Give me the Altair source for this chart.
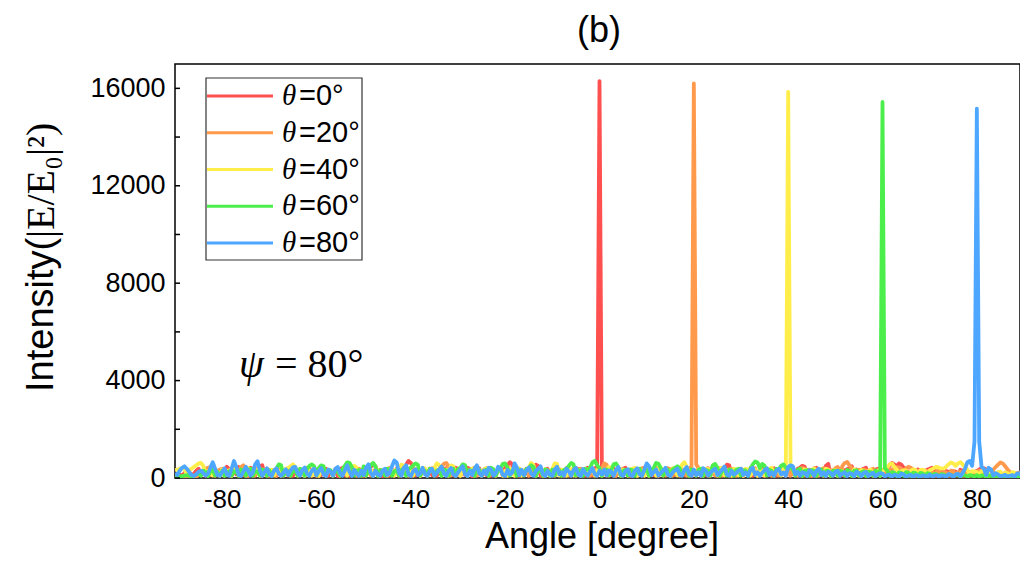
import altair as alt
import pandas as pd

# ---------------- data ----------------
ANGLE_START = -90.0
ANGLE_STEP = 0.5

series_names = ["θ=0°", "θ=20°", "θ=40°", "θ=60°", "θ=80°"]
legend_symbol = ["θ", "θ", "θ", "θ", "θ"]
legend_rest = ["=0°", "=20°", "=40°", "=60°", "=80°"]
series_colors = ["#FF5050", "#FF9A4C", "#FFEE4A", "#4CEE4C", "#4DA6FF"]

x_tick_labels = [-80, -60, -40, -20, 0, 20, 40, 60, 80]
y_tick_labels = [0, 4000, 8000, 12000, 16000]
y_minor_ticks = [0, 2000, 4000, 6000, 8000, 10000, 12000, 14000, 16000]

red = [
    100, 60, 150, 80, 200, 120, 250, 90, 180, 300, 380, 120, 300, 90, 350, 460, 500, 150, 300, 90,
    320, 100, 460, 350, 90, 300, 150, 450, 400, 120, 280, 80, 420, 380, 100, 360, 480, 520, 150, 350,
    90, 260, 320, 80, 300, 120, 280, 340, 100, 350, 90, 260, 330, 120, 320, 80, 350, 420, 110, 300,
    80, 320, 120, 300, 380, 90, 280, 130, 300, 80, 350, 420, 100, 300, 90, 420, 380, 110, 280, 90,
    340, 100, 380, 450, 560, 480, 120, 300, 80, 320, 360, 90, 280, 120, 380, 90, 340, 420, 550, 700,
    620, 420, 100, 300, 90, 300, 270, 80, 380, 120, 290, 90, 300, 120, 350, 400, 90, 300, 110, 420,
    380, 90, 300, 120, 420, 380, 80, 300, 110, 400, 90, 300, 120, 380, 90, 300, 120, 420, 380, 100,
    420, 520, 650, 560, 120, 320, 90, 300, 110, 380, 90, 300, 120, 550, 500, 90, 300, 100, 380, 90,
    300, 90, 380, 120, 300, 90, 400, 360, 100, 300, 90, 380, 120, 320, 90, 420, 380, 100, 400, 450,
    16300, 500, 380, 90, 300, 120, 400, 90, 300, 110, 380, 420, 90, 300, 120, 380, 90, 300, 110, 420,
    380, 90, 300, 120, 400, 90, 320, 110, 340, 380, 90, 300, 120, 400, 90, 320, 110, 350, 380, 90,
    300, 110, 380, 90, 300, 120, 400, 90, 320, 110, 340, 90, 350, 120, 550, 520, 90, 340, 110, 350,
    380, 90, 300, 120, 400, 90, 320, 110, 340, 380, 90, 320, 110, 340, 400, 90, 320, 110, 340, 380,
    350, 90, 300, 120, 380, 420, 500, 460, 100, 340, 90, 350, 420, 110, 340, 90, 500, 580, 120, 320,
    300, 90, 380, 120, 320, 360, 420, 480, 100, 350, 90, 340, 380, 420, 110, 320, 90, 340, 380, 120,
    330, 100, 350, 500, 620, 560, 480, 600, 550, 420, 380, 120, 300, 280, 90, 350, 300, 100, 300, 340,
    380, 420, 350, 90, 260, 300, 120, 280, 250, 90, 280, 260, 100, 340, 300, 90, 280, 240, 100, 250,
    280, 350, 420, 400, 350, 120, 260, 240, 90, 200, 220, 90, 220, 200, 80, 160, 180, 70, 220, 200,
    180,
]

orange = [
    80, 70, 60, 50, 60, 80, 100, 90, 70, 60, 120, 180, 250, 380, 420, 120, 250, 90, 260, 350,
    380, 100, 250, 320, 90, 350, 280, 100, 450, 520, 400, 90, 280, 350, 100, 380, 300, 90, 320, 380,
    100, 300, 280, 90, 360, 300, 100, 300, 350, 90, 450, 380, 100, 280, 330, 90, 420, 360, 100, 280,
    300, 90, 280, 320, 100, 300, 270, 90, 380, 330, 100, 350, 420, 500, 450, 100, 300, 90, 380, 330,
    90, 350, 400, 100, 300, 330, 90, 340, 300, 100, 360, 420, 380, 90, 300, 350, 100, 360, 320, 90,
    380, 100, 300, 350, 90, 360, 320, 100, 350, 400, 90, 320, 350, 450, 580, 620, 480, 100, 340, 90,
    320, 100, 380, 340, 90, 330, 380, 420, 100, 320, 90, 350, 400, 100, 320, 300, 90, 380, 350, 100,
    300, 90, 400, 360, 100, 350, 380, 90, 300, 330, 100, 420, 360, 90, 300, 340, 100, 350, 320, 90,
    340, 100, 420, 360, 90, 300, 350, 100, 360, 320, 90, 340, 380, 100, 320, 360, 90, 380, 340, 100,
    350, 380, 600, 550, 100, 340, 300, 90, 400, 360, 100, 300, 340, 90, 350, 320, 100, 350, 400, 90,
    320, 100, 340, 380, 420, 90, 320, 300, 100, 400, 360, 90, 300, 340, 100, 360, 320, 90, 400, 450,
    16200, 550, 420, 100, 320, 350, 90, 380, 340, 100, 350, 400, 90, 320, 300, 100, 380, 350, 90, 300,
    340, 90, 350, 320, 100, 350, 400, 90, 320, 300, 100, 380, 350, 90, 300, 340, 100, 420, 360, 90,
    350, 100, 340, 300, 90, 380, 420, 100, 340, 300, 90, 400, 360, 100, 350, 400, 90, 340, 320, 100,
    400, 450, 100, 500, 620, 660, 520, 400, 100, 300, 340, 90, 350, 320, 100, 340, 380, 90, 320, 300,
    320, 100, 280, 320, 350, 400, 450, 420, 380, 120, 400, 460, 420, 350, 100, 280, 320, 90, 260, 280,
    300, 260, 90, 280, 300, 100, 240, 220, 90, 300, 280, 100, 230, 260, 90, 250, 230, 100, 240, 220,
    260, 300, 100, 320, 300, 90, 280, 350, 450, 550, 640, 600, 480, 360, 250, 200, 100, 200, 220, 100,
    230,
]

yellow = [
    320, 350, 380, 400, 380, 120, 330, 380, 450, 520, 600, 620, 500, 120, 300, 330, 100, 300, 260, 90,
    350, 100, 280, 320, 90, 420, 350, 100, 280, 330, 90, 420, 360, 100, 280, 330, 90, 340, 300, 100,
    300, 340, 100, 330, 300, 90, 320, 380, 420, 480, 560, 450, 100, 300, 280, 90, 350, 300, 100, 320,
    340, 90, 280, 320, 100, 330, 300, 90, 320, 300, 100, 320, 360, 90, 300, 380, 500, 420, 100, 300,
    280, 100, 360, 330, 90, 280, 320, 100, 330, 300, 90, 380, 330, 100, 350, 420, 550, 500, 100, 320,
    300, 100, 380, 330, 90, 350, 400, 100, 320, 300, 420, 600, 540, 100, 320, 350, 90, 520, 480, 100,
    320, 90, 380, 340, 100, 330, 380, 90, 360, 320, 100, 350, 400, 90, 320, 300, 100, 380, 350, 90,
    300, 100, 380, 330, 90, 350, 400, 100, 320, 300, 420, 620, 540, 100, 320, 340, 90, 350, 320, 100,
    360, 600, 580, 100, 340, 300, 90, 400, 360, 100, 300, 340, 90, 350, 320, 100, 340, 380, 90, 320,
    340, 90, 350, 320, 450, 420, 100, 300, 340, 90, 350, 320, 100, 340, 380, 420, 90, 320, 300, 100,
    380, 100, 320, 300, 90, 380, 420, 100, 320, 300, 90, 400, 360, 100, 300, 550, 650, 450, 100, 300,
    340, 100, 350, 320, 90, 340, 380, 100, 320, 300, 90, 380, 420, 100, 320, 300, 90, 380, 350, 100,
    300, 90, 380, 350, 100, 300, 340, 90, 350, 320, 100, 340, 380, 420, 90, 320, 300, 100, 380, 420,
    15850, 450, 380, 100, 300, 350, 90, 360, 320, 100, 340, 380, 90, 320, 300, 100, 380, 350, 90, 300,
    320, 90, 300, 280, 100, 300, 270, 90, 350, 300, 100, 330, 290, 90, 300, 340, 100, 270, 310, 90,
    300, 350, 420, 560, 600, 450, 350, 100, 280, 320, 300, 100, 300, 350, 330, 90, 320, 340, 300, 100,
    320, 360, 420, 460, 420, 380, 400, 460, 560, 640, 600, 500, 600, 650, 560, 420, 350, 100, 280, 260,
    240, 100, 280, 300, 260, 90, 220, 200, 100, 240, 260, 90, 220, 200, 100, 240, 220, 90, 180, 200,
    190,
]

green = [
    40, 50, 60, 80, 100, 120, 90, 60, 80, 150, 200, 90, 300, 250, 80, 280, 350, 100, 250, 90,
    300, 90, 220, 280, 100, 280, 240, 90, 350, 300, 100, 300, 380, 90, 280, 250, 100, 350, 300, 90,
    320, 90, 300, 380, 560, 520, 100, 300, 280, 90, 300, 280, 100, 380, 350, 90, 380, 500, 560, 480,
    100, 420, 520, 480, 100, 300, 320, 90, 300, 280, 100, 360, 500, 640, 620, 450, 100, 300, 330, 90,
    480, 100, 340, 520, 620, 480, 90, 320, 300, 100, 380, 330, 90, 280, 320, 100, 330, 300, 90, 380,
    420, 520, 600, 540, 100, 330, 300, 90, 380, 350, 100, 300, 340, 90, 350, 320, 100, 340, 380, 90,
    360, 420, 560, 520, 100, 330, 300, 90, 380, 350, 100, 300, 340, 90, 420, 360, 100, 300, 400, 580,
    600, 420, 100, 300, 350, 90, 330, 300, 100, 380, 400, 520, 460, 90, 300, 340, 100, 350, 320, 90,
    340, 100, 350, 320, 90, 340, 380, 500, 620, 560, 100, 320, 300, 90, 380, 350, 420, 640, 700, 520,
    400, 90, 320, 350, 100, 330, 560, 600, 420, 90, 300, 340, 100, 350, 320, 90, 340, 380, 100, 320,
    340, 90, 350, 420, 620, 580, 400, 100, 300, 340, 90, 350, 420, 480, 400, 100, 300, 340, 90, 350,
    320, 100, 340, 380, 90, 320, 300, 100, 520, 580, 420, 90, 300, 340, 100, 350, 320, 90, 340, 380,
    100, 320, 300, 90, 380, 560, 680, 640, 400, 580, 500, 100, 340, 300, 90, 380, 350, 500, 560, 420,
    380, 420, 360, 100, 330, 380, 90, 290, 320, 100, 330, 300, 90, 320, 350, 100, 280, 300, 90, 290,
    300, 90, 290, 260, 100, 330, 280, 90, 290, 320, 100, 240, 280, 90, 260, 240, 100, 300, 260, 90,
    15440, 400, 300, 90, 240, 220, 80, 230, 200, 90, 240, 210, 80, 220, 200, 70, 210, 190, 80, 200,
    180, 70, 170, 150, 60, 160, 140, 70, 150, 130, 60, 140, 120, 50, 130, 110, 60, 120, 100, 50,
    120, 50, 110, 100, 40, 110, 90, 50, 100, 80, 40, 90, 80, 40, 90, 70, 40, 80, 70, 40,
    80,
]

blue = [
    200, 120, 300, 420, 480, 380, 250, 120, 80, 150, 260, 300, 200, 100, 180, 420, 650, 380, 120, 90,
    250, 400, 150, 90, 380, 700, 450, 120, 80, 260, 460, 300, 100, 220, 560, 690, 300, 90, 250, 400,
    150, 80, 300, 400, 180, 90, 220, 360, 120, 300, 440, 460, 200, 100, 330, 430, 180, 90, 300, 380,
    120, 280, 410, 150, 80, 350, 260, 100, 380, 450, 200, 90, 300, 520, 250, 80, 340, 180, 90, 300,
    120, 430, 560, 200, 80, 300, 150, 90, 310, 380, 120, 220, 480, 720, 640, 200, 90, 420, 520, 150,
    80, 280, 360, 120, 200, 420, 150, 90, 290, 380, 100, 210, 350, 470, 180, 90, 300, 410, 150, 80,
    220, 360, 480, 150, 80, 300, 120, 380, 520, 200, 90, 310, 150, 420, 350, 100, 200, 460, 380, 120,
    80, 330, 150, 220, 600, 420, 110, 340, 120, 300, 430, 180, 90, 280, 380, 480, 150, 80, 300, 140,
    90, 350, 460, 150, 240, 100, 380, 270, 90, 330, 420, 150, 80, 370, 200, 100, 260, 410, 150, 90,
    300, 150, 350, 100, 310, 240, 90, 330, 450, 150, 90, 280, 360, 120, 80, 300, 400, 150, 90, 330,
    600, 480, 120, 240, 350, 100, 210, 300, 420, 130, 80, 220, 310, 390, 120, 90, 330, 450, 160, 90,
    350, 120, 240, 90, 400, 310, 100, 220, 300, 380, 120, 230, 350, 470, 150, 90, 290, 150, 200, 310,
    380, 120, 230, 90, 340, 420, 130, 240, 90, 220, 330, 400, 120, 240, 90, 300, 380, 140, 230, 90,
    450, 520, 480, 150, 260, 90, 240, 200, 80, 320, 250, 90, 290, 380, 120, 240, 80, 260, 220, 90,
    250, 300, 90, 180, 240, 80, 200, 170, 60, 260, 200, 70, 210, 250, 80, 160, 220, 60, 150, 200,
    180, 60, 120, 140, 50, 130, 110, 40, 180, 140, 50, 100, 130, 40, 120, 100, 50, 110, 90, 40,
    140, 50, 90, 120, 40, 110, 90, 50, 160, 120, 40, 140, 180, 60, 220, 380, 650, 700, 500, 1500,
    15170, 1500, 450, 380, 120, 420, 350, 100, 200, 150, 60, 100, 130, 50, 90, 120, 50, 180, 200, 80,
    160,
]

series_values = [red, orange, yellow, green, blue]

# ---------------- tables ----------------
rows = []
for name, vals in zip(series_names, series_values):
    for i, v in enumerate(vals):
        rows.append({"series": name, "angle": ANGLE_START + ANGLE_STEP * i, "intensity": v})
df = pd.DataFrame(rows)

legend_df = pd.DataFrame({
    "idx": list(range(len(series_names))),
    "sym": legend_symbol,
    "rest": legend_rest,
    "col": series_colors,
})

# plot area: 845 px wide keeps the page within the window; the axis keeps the
# original's pixels-per-degree, so the last ~0.85 degree at the right edge is cut
W, H = 845, 414
YMAX = 17000
xs = alt.Scale(domain=[-90, 89.15], nice=False, zero=False)
ys = alt.Scale(domain=[0, YMAX], nice=False, zero=False)

x_axis = alt.Axis(values=x_tick_labels, labelExpr="'' + datum.value", title=None,
                  labelFont="Liberation Sans", labelFontSize=26, labelColor="black",
                  tickSize=0, domain=False, grid=False, labelPadding=8)
y_axis = alt.Axis(values=y_tick_labels, labelExpr="'' + datum.value", title=None,
                  labelFont="Liberation Sans", labelFontSize=27, labelColor="black",
                  tickSize=0, domain=False, grid=False, labelPadding=10)

layers = []
for k, (name, col) in enumerate(zip(series_names, series_colors)):
    layers.append(
        alt.Chart(df).transform_filter(alt.datum.series == name)
        .mark_line(color=col, strokeWidth=3.8, strokeJoin="round", clip=True)
        .encode(
            x=alt.X("angle:Q", scale=xs, axis=x_axis, title=None),
            y=alt.Y("intensity:Q", scale=ys, axis=y_axis, title=None),
        )
    )

yt = alt.Chart(pd.DataFrame({"v": y_minor_ticks})).mark_rule(color="black", strokeWidth=1.5).encode(
    y=alt.Y("v:Q", scale=ys, axis=y_axis, title=None), x=alt.value(0), x2=alt.value(5))

# legend (manual, to get the italic serif theta)
leg_base = alt.Chart(legend_df).transform_calculate(
    ly=f"({H} - (32 + 36.75 * datum.idx)) / {H} * {YMAX}")
leg_box = alt.Chart(pd.DataFrame({"a": [0]})).mark_rect(fill="white", stroke="#333333", strokeWidth=1.2).encode(
    x=alt.value(31), x2=alt.value(187), y=alt.value(14), y2=alt.value(196))
leg_lines = leg_base.mark_rule(strokeWidth=3).encode(
    x=alt.value(32), x2=alt.value(98),
    y=alt.Y("ly:Q", scale=ys, axis=y_axis, title=None),
    color=alt.Color("col:N", scale=None, legend=None))
leg_sym = leg_base.mark_text(font="Liberation Serif", fontStyle="italic", fontSize=29,
                             align="left", baseline="middle", color="black").encode(
    x=alt.value(107), y=alt.Y("ly:Q", scale=ys, axis=y_axis, title=None), text="sym:N")
leg_rest = leg_base.mark_text(font="Liberation Sans", fontSize=29,
                              align="left", baseline="middle", color="black").encode(
    x=alt.value(124), y=alt.Y("ly:Q", scale=ys, axis=y_axis, title=None), text="rest:N")

one = pd.DataFrame({"a": [0]})
title_b = alt.Chart(one).mark_text(text="(b)", font="Liberation Sans", fontSize=36, align="center",
                                   baseline="alphabetic", color="black").encode(x=alt.value(424), y=alt.value(-22))
psi = alt.Chart(one).mark_text(text="ψ", font="Liberation Serif", fontStyle="italic", fontSize=40,
                               align="left", baseline="alphabetic", color="black").encode(x=alt.value(64), y=alt.value(313))
psi_val = alt.Chart(one).mark_text(text="= 80°", font="Liberation Serif", fontSize=40,
                                   align="left", baseline="alphabetic", color="black").encode(x=alt.value(100), y=alt.value(313))
xtitle = alt.Chart(one).mark_text(text="Angle [degree]", font="Liberation Sans", fontSize=36, align="center",
                                  baseline="alphabetic", color="black").encode(x=alt.value(427), y=alt.value(484))
ytitle1 = alt.Chart(one).mark_text(text="Intensity(", font="Liberation Sans", fontSize=38, angle=270,
                                   align="left", baseline="middle", color="black").encode(x=alt.value(-133), y=alt.value(328))
ytitle2 = alt.Chart(one).mark_text(text="|E/E₀|²)", font="Liberation Serif", fontSize=40, angle=270,
                                   align="left", baseline="middle", color="black").encode(x=alt.value(-133), y=alt.value(174))

chart = alt.layer(
    *layers, yt, leg_box, leg_lines, leg_sym, leg_rest,
    title_b, psi, psi_val, xtitle, ytitle1, ytitle2,
).properties(
    width=W, height=H,
    padding={"left": 167, "top": 56, "right": 0, "bottom": 79},
    autosize=alt.AutoSizeParams(type="none"),
).configure_view(stroke="black", strokeWidth=1.5)

chart.save("out.html", embed_options={"renderer": "svg", "actions": False})
